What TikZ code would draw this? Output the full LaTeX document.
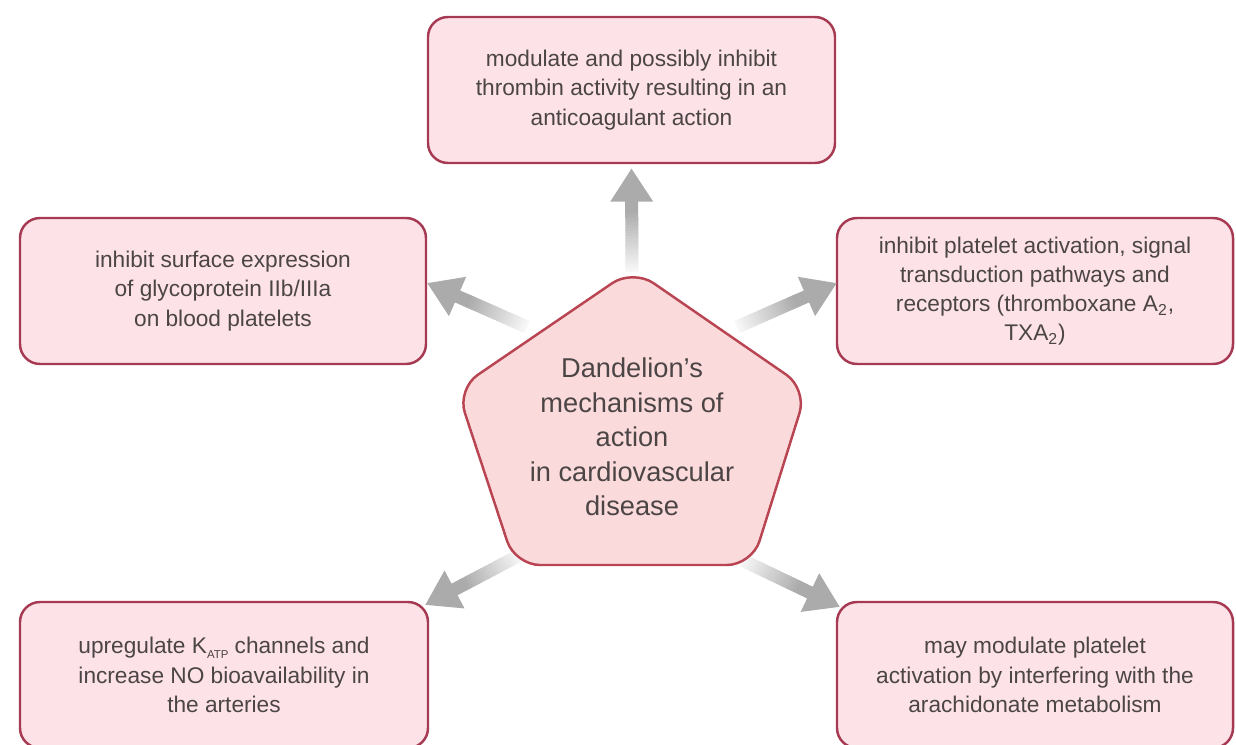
\documentclass[tikz,border=0pt]{standalone}
\usepackage{fontspec}
\setmainfont{Liberation Sans}
\usetikzlibrary{arrows.meta,calc}
\definecolor{boxfill}{HTML}{FDE2E7}
\definecolor{boxline}{HTML}{A63A52}
\definecolor{pentfill}{HTML}{FBDADB}
\definecolor{pentline}{HTML}{B94452}
\definecolor{txtgray}{HTML}{4B4546}
\colorlet{arrowgray}{black!33}
\tikzset{
effectbox/.style={draw=boxline,fill=boxfill,line width=1.4pt,rounded corners=0.4cm,minimum height=2.92cm,align=center,text=txtgray,font=\fontsize{12.9}{16.6}\selectfont},
}
\newcommand\fatarrow[2]{%
\foreach \s in {0,...,23}{
\pgfmathsetmacro\ta{\s/40}
\pgfmathsetmacro\tb{(\s+1.3)/40}
\pgfmathtruncatemacro\shadepct{10+90*\s/23}
\draw[arrowgray!\shadepct!white,line width=7.4pt] ($(#1)!\ta!(#2)$)--($(#1)!\tb!(#2)$);
}
\draw[arrowgray,line width=7.4pt,-{Triangle[length=19pt,width=23pt]}] ($(#1)!0.6!(#2)$)--(#2);
}
\begin{document}
\begin{tikzpicture}
\useasboundingbox (0,0) rectangle (24.72,14.88);
% pentagon corners
\coordinate (pt) at (12.66,9.50);
\coordinate (pr) at (16.14,7.10);
\coordinate (pbr) at (15.04,3.58);
\coordinate (pbl) at (10.30,3.58);
\coordinate (pl) at (9.14,7.10);
% boxes
\node[effectbox,minimum width=8.14cm] (thrombin) at (12.63,13.08) {modulate and possibly inhibit\\thrombin activity resulting in an\\anticoagulant action};
\node[effectbox,minimum width=8.12cm] (glyco) at (4.46,9.06) {inhibit surface expression\\of glycoprotein IIb/IIIa\\on blood platelets};
\node[effectbox,minimum width=7.92cm] (platelet) at (20.70,9.06) {inhibit platelet activation, signal\\transduction pathways and\\receptors (thromboxane A\textsubscript{2},\\TXA\textsubscript{2})};
\node[effectbox,minimum width=8.16cm] (katp) at (4.48,1.38) {upregulate K\raisebox{-0.4ex}{\fontsize{6.5}{7}\selectfont ATP} channels and\\increase NO bioavailability in\\the arteries};
\node[effectbox,minimum width=7.92cm] (arach) at (20.70,1.38) {may modulate platelet\\activation by interfering with the\\arachidonate metabolism};
% arrow ends
\coordinate (up-a) at (12.64,9.44);
\coordinate (up-b) at ([yshift=-0.08cm]thrombin.south);
\coordinate (ul-a) at (10.54,8.34);
\coordinate (ul-b) at (8.54,9.22);
\coordinate (ur-a) at (14.74,8.34);
\coordinate (ur-b) at (16.74,9.22);
\coordinate (ll-a) at (10.40,3.78);
\coordinate (ll-b) at (8.50,2.78);
\coordinate (lr-a) at (14.84,3.68);
\coordinate (lr-b) at (16.80,2.74);
\fatarrow{up-a}{up-b}
\fatarrow{ul-a}{ul-b}
\fatarrow{ur-a}{ur-b}
\fatarrow{ll-a}{ll-b}
\fatarrow{lr-a}{lr-b}
\draw[draw=pentline,fill=pentfill,line width=1.4pt,rounded corners=0.5cm] (pt)--(pr)--(pbr)--(pbl)--(pl)--cycle;
\node[align=center,text=txtgray,font=\fontsize{15.5}{19.7}\selectfont] (dandelion) at (12.64,6.14) {Dandelion's\\mechanisms of\\action\\in cardiovascular\\disease};
\end{tikzpicture}
\end{document}
